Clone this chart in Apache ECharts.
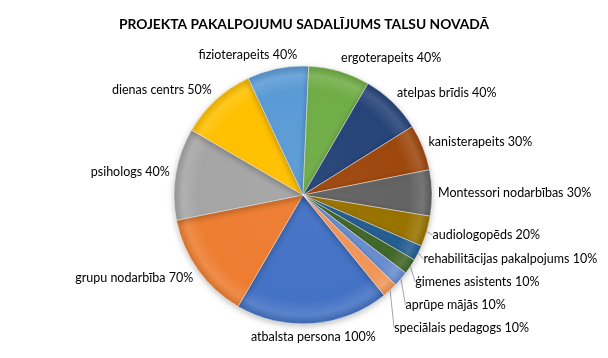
<!DOCTYPE html>
<html><head><meta charset="utf-8">
<script src="https://cdn.jsdelivr.net/npm/echarts@6/dist/echarts.min.js"></script>
<style>html,body{margin:0;padding:0;background:#fff}#c{width:608px;height:358px}</style>
</head><body><div id="c"></div>
<script>
const titleText = 'PROJEKTA PAKALPOJUMU SADALĪJUMS TALSU NOVADĀ';
const categories = ['atbalsta persona','grupu nodarbība','psihologs','dienas centrs','fizioterapeits','ergoterapeits','atelpas brīdis','kanisterapeits','Montessori nodarbības','audiologopēds','rehabilitācijas pakalpojums','ģimenes asistents','aprūpe mājās','speciālais pedagogs'];
// slice sizes
const values = [100,70,60,50,40,40,40,30,30,20,10,10,10,10];
// percentages printed in the labels
const labelPercents = [100,70,40,50,40,40,40,30,30,20,10,10,10,10];
const colors = ['#4472C4','#ED7D31','#A5A5A5','#FFC000','#5B9BD5','#70AD47','#264478','#9E480E','#636363','#997300','#255E91','#43682B','#698ED0','#F1975A'];

const CX = 303, CY = 195, R = 129, START = 141; // degrees clockwise from 12 o'clock
const total = values.reduce((a,b)=>a+b,0);
const mids = [];
let acc = 0;
values.forEach(v => { mids.push(START + (acc + v/2) / total * 360); acc += v; });

// label anchor layout (outside end), then push side labels down so they don't collide
const GAP = 6, LH = 15, MIN = 23;
const lay = mids.map(m => {
  const a = m*Math.PI/180, dx = Math.sin(a), dy = -Math.cos(a);
  return {dx, dy, px: CX + (R+GAP)*dx, y: CY + (R+GAP)*dy + dy*LH/2};
});
[true,false].forEach(right => {
  const idx = lay.map((l,i)=>i).filter(i => Math.abs(lay[i].dx) > 0.3 && (lay[i].dx > 0) === right).sort((a,b)=>lay[a].y-lay[b].y);
  for (let k=1; k<idx.length; k++) {
    const A = lay[idx[k-1]], B = lay[idx[k]];
    if (B.y - A.y < MIN) B.y = A.y + MIN;
  }
});

function shade(hex, f){
  const n = parseInt(hex.slice(1),16);
  let r=(n>>16)&255,g=(n>>8)&255,b=n&255;
  const m = c => f>0 ? Math.round(c+(255-c)*f) : Math.round(c*(1+f));
  return 'rgb('+m(r)+','+m(g)+','+m(b)+')';
}

const data = categories.map((n,i)=>({
  name:n, value:values[i],
  itemStyle:{color:{type:'radial',x:CX,y:CY,r:R,global:true,colorStops:[
    {offset:0,color:shade(colors[i],0.03)},{offset:0.82,color:colors[i]},{offset:0.93,color:shade(colors[i],0.12)},{offset:1,color:shade(colors[i],-0.1)}]}},
  labelLine:{show: values[i] <= 20}
}));

const chart = echarts.init(document.getElementById('c'));
chart.setOption({
  animation:false,
  title:{text:titleText,left:'center',top:13,textStyle:{fontFamily:'Lato',fontWeight:'bold',fontSize:13.8,color:'#000'}},
  series:[{
    type:'pie',
    center:[CX,CY], radius:R,
    startAngle: 90 - START, clockwise:true,
    avoidLabelOverlap:false,
    data:data,
    itemStyle:{borderColor:'rgba(255,255,255,0.55)',borderWidth:0.8,shadowBlur:6,shadowColor:'rgba(0,0,0,0.25)',shadowOffsetY:2},
    label:{show:true,position:'outside',formatter:p=>p.name+' '+labelPercents[p.dataIndex]+'%',fontFamily:'Lato',fontSize:12.5,color:'#000'},
    labelLine:{length:6,length2:0,smooth:false,lineStyle:{color:'#a6a6a6',width:1}},
    labelLayout:function(p){
      const l = lay[p.dataIndex];
      const w = p.labelRect.width;
      const s = Math.max(0, Math.min(1, (Math.abs(l.dx)-0.08)/0.2)) * Math.sign(l.dx);
      return {x: l.px + s*w/2, y: l.y, align:'center', verticalAlign:'middle'};
    }
  }]
});
</script></body></html>
